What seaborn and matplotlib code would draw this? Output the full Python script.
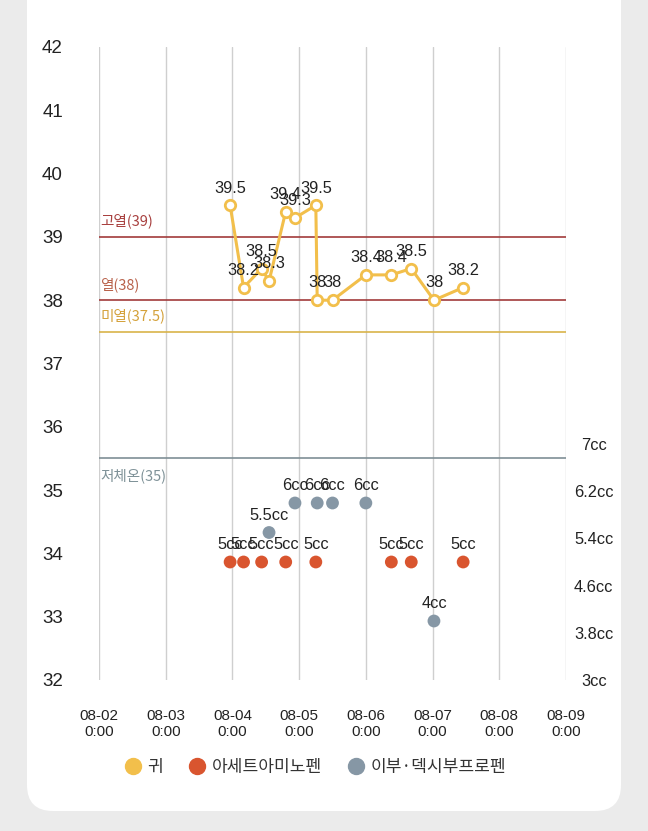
import matplotlib
matplotlib.use('Agg')
import matplotlib.pyplot as plt
from matplotlib.patches import FancyBboxPatch
from matplotlib.lines import Line2D
import seaborn as sns
import pandas as pd

# ---------------- data ----------------
temp_times = ['2024-08-03 23:10', '2024-08-04 04:00', '2024-08-04 10:30', '2024-08-04 13:10',
              '2024-08-04 19:10', '2024-08-04 22:30', '2024-08-05 06:00', '2024-08-05 06:30',
              '2024-08-05 12:00', '2024-08-06 00:00', '2024-08-06 09:10', '2024-08-06 16:20',
              '2024-08-07 00:30', '2024-08-07 11:00']
temp_values = [39.5, 38.2, 38.5, 38.3, 39.4, 39.3, 39.5, 38.0, 38.0, 38.4, 38.4, 38.5, 38.0, 38.2]
temp_labels = ['39.5', '38.2', '38.5', '38.3', '39.4', '39.3', '39.5', '38', '38', '38.4', '38.4', '38.5', '38', '38.2']

acet_times = ['2024-08-03 23:10', '2024-08-04 04:00', '2024-08-04 10:30', '2024-08-04 19:10',
              '2024-08-05 06:00', '2024-08-06 09:10', '2024-08-06 16:20', '2024-08-07 11:00']
acet_values = [5, 5, 5, 5, 5, 5, 5, 5]

ibu_times = ['2024-08-04 13:10', '2024-08-04 22:30', '2024-08-05 06:30', '2024-08-05 12:00',
             '2024-08-06 00:00', '2024-08-07 00:30']
ibu_values = [5.5, 6, 6, 6, 6, 4]

thresholds = [39.0, 38.0, 37.5, 35.5]
threshold_labels = ['고열(39)', '열(38)', '미열(37.5)', '저체온(35)']

left_ticks = [32, 33, 34, 35, 36, 37, 38, 39, 40, 41, 42]
right_ticks = [3, 3.8, 4.6, 5.4, 6.2, 7]
right_tick_labels = ['3cc', '3.8cc', '4.6cc', '5.4cc', '6.2cc', '7cc']
x_ticks = ['2024-08-02', '2024-08-03', '2024-08-04', '2024-08-05', '2024-08-06',
           '2024-08-07', '2024-08-08', '2024-08-09']
x_tick_labels = ['08-02\n0:00', '08-03\n0:00', '08-04\n0:00', '08-05\n0:00', '08-06\n0:00',
                 '08-07\n0:00', '08-08\n0:00', '08-09\n0:00']
legend_labels = ['귀', '아세트아미노펜', '이부·덱시부프로펜']

# ---------------- style ----------------
sns.set_style('white')
FONT = ['Liberation Sans', 'Noto Sans CJK KR', 'DejaVu Sans']
KFONT = ['Noto Sans CJK KR', 'DejaVu Sans']
plt.rcParams['font.family'] = FONT

YELLOW = '#f2bf4b'
RED = '#d9552f'
GRAY = '#8697a5'
th_line_colors = ['#a23b3b', '#a23b3b', '#d9b44a', '#7f8f96']
th_text_colors = ['#a8403f', '#b8614a', '#d4a13a', '#7f9298']

W, H, DPI = 648, 831, 100
fig = plt.figure(figsize=(W / DPI, H / DPI), dpi=DPI)
fig.patch.set_facecolor('#ebebeb')
card = FancyBboxPatch((27 / DPI, 20 / DPI), (621 - 27) / DPI, (H + 60 - 20) / DPI,
                      boxstyle='round,pad=0,rounding_size=0.26',
                      transform=fig.dpi_scale_trans, facecolor='white', edgecolor='none', zorder=-10)
fig.patches.append(card)

ax = fig.add_axes([99 / W, 1 - 680 / H, (566 - 99) / W, (680 - 47) / H])
ax.set_facecolor('none')

tdf = pd.DataFrame({'time': pd.to_datetime(temp_times), 'temp': temp_values})
adf = pd.DataFrame({'time': pd.to_datetime(acet_times), 'dose': acet_values})
idf = pd.DataFrame({'time': pd.to_datetime(ibu_times), 'dose': ibu_values})

xmin = pd.Timestamp(x_ticks[0])
xmax = pd.Timestamp(x_ticks[-1])

# vertical grid lines
for t in x_ticks:
    ax.axvline(pd.Timestamp(t), color='#cfcfcf', lw=1, zorder=0.5)

# threshold lines
for v, lab, lc, tc in zip(thresholds, threshold_labels, th_line_colors, th_text_colors):
    ax.axhline(v, color=lc, lw=1.2, zorder=1)
    if lab.startswith('저체온'):
        ax.annotate(lab, (xmin, v), xytext=(1, -7), textcoords='offset points',
                    ha='left', va='top', fontsize=10.5, color=tc, family=KFONT)
    else:
        ax.annotate(lab, (xmin, v), xytext=(1, 6), textcoords='offset points',
                    ha='left', va='bottom', fontsize=10.5, color=tc, family=KFONT)

sns.lineplot(data=tdf, x='time', y='temp', ax=ax, color=YELLOW, lw=2.2, marker='o',
             markersize=7.5, markerfacecolor='white', markeredgecolor=YELLOW,
             markeredgewidth=2, sort=False, zorder=5)
for t, v, lab in zip(tdf['time'], temp_values, temp_labels):
    ax.annotate(lab, (t, v), xytext=(0, 7), textcoords='offset points', ha='center',
                va='bottom', fontsize=11.8, color='#222222', zorder=6)

ax.set_xlim(xmin, xmax)
ax.set_ylim(32, 42)
ax.set_yticks(left_ticks)
ax.set_yticklabels([str(v) for v in left_ticks])
ax.set_xticks([pd.Timestamp(t) for t in x_ticks])
ax.set_xticklabels(x_tick_labels, fontsize=11, color='#222222', linespacing=1.2)
ax.tick_params(axis='x', length=0, pad=21)
ax.tick_params(axis='y', length=0, pad=26, labelsize=13.5, labelcolor='#222222')
ax.set_xlabel('')
ax.set_ylabel('')
for s in ax.spines.values():
    s.set_visible(False)

ax2 = ax.twinx()
sns.scatterplot(data=adf, x='time', y='dose', ax=ax2, color=RED, s=85, edgecolor='none', zorder=5)
sns.scatterplot(data=idf, x='time', y='dose', ax=ax2, color=GRAY, s=85, edgecolor='none', zorder=5)
for t, v in zip(adf['time'], acet_values):
    ax2.annotate(f'{v:g}cc', (t, v), xytext=(0, 7), textcoords='offset points', ha='center',
                 va='bottom', fontsize=11.8, color='#222222')
for t, v in zip(idf['time'], ibu_values):
    ax2.annotate(f'{v:g}cc', (t, v), xytext=(0, 7), textcoords='offset points', ha='center',
                 va='bottom', fontsize=11.8, color='#222222')
ax2.set_ylim(3, 3 + 4 * (680 - 47) / (680 - 444))
ax2.set_xlim(xmin, xmax)
ax2.set_yticks(right_ticks)
ax2.set_yticklabels(right_tick_labels, ha='center')
ax2.tick_params(axis='y', length=0, pad=20, labelsize=11.8, labelcolor='#222222')
ax2.set_ylabel('')
ax2.set_xlabel('')
for s in ax2.spines.values():
    s.set_visible(False)

handles = [Line2D([], [], ls='none', marker='o', markersize=11.5, color=c)
           for c in (YELLOW, RED, GRAY)]
fig.legend(handles, legend_labels, loc='center', bbox_to_anchor=(315 / W, 1 - 767 / H),
           ncol=3, frameon=False, prop={'family': KFONT, 'size': 12.3},
           handlelength=1.0, handletextpad=0.35, columnspacing=1.5, labelcolor='#333333')

fig.savefig('out.png', dpi=DPI, facecolor=fig.get_facecolor())
